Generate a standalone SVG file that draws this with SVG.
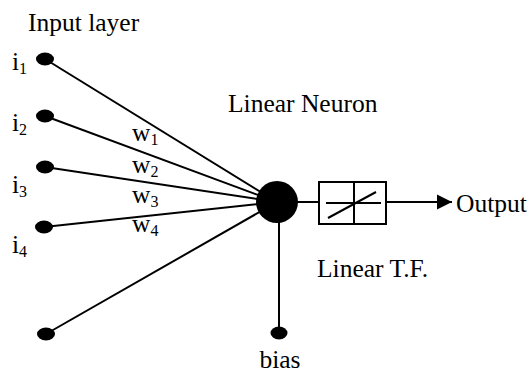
<svg xmlns="http://www.w3.org/2000/svg" width="531" height="373" viewBox="0 0 531 373">
  <defs>
    <style>
      .t { font-family: "Liberation Serif", "Times New Roman", serif; font-size: 25.5px; fill: #000; }
      .s { font-size: 16px; }
      .ln { stroke: #000; stroke-width: 2; fill: none; }
      .dot { fill: #000; }
    </style>
    <marker id="arrow" markerWidth="16" markerHeight="16" refX="15" refY="8" orient="auto" markerUnits="userSpaceOnUse">
      <path d="M0,0.5 L15,8 L0,15.5 Z" fill="#000"/>
    </marker>
  </defs>
  <rect width="531" height="373" fill="#fff"/>

  <!-- connectors: inputs into the neuron, bias, transfer and output -->
  <g id="connectors" class="ln">
    <line x1="45" y1="59" x2="277" y2="202"/>
    <line x1="45" y1="116" x2="277" y2="202"/>
    <line x1="45" y1="167" x2="277" y2="202"/>
    <line x1="44" y1="227" x2="277" y2="202"/>
    <line x1="46" y1="334" x2="277" y2="202"/>
    <line x1="279" y1="202" x2="279" y2="333"/>
    <line x1="297" y1="202" x2="319" y2="202"/>
    <line x1="386" y1="202" x2="452" y2="202" marker-end="url(#arrow)"/>
  </g>

  <!-- input layer -->
  <text class="t" x="28" y="31">Input layer</text>
  <g id="input1">
    <ellipse class="dot" cx="45" cy="59" rx="9" ry="6.5"/>
    <text class="t" x="12" y="70">i<tspan class="s" dy="4">1</tspan></text>
  </g>
  <g id="input2">
    <ellipse class="dot" cx="45" cy="116" rx="9" ry="6.5"/>
    <text class="t" x="12" y="131">i<tspan class="s" dy="4">2</tspan></text>
  </g>
  <g id="input3">
    <ellipse class="dot" cx="45" cy="167" rx="9" ry="6.5"/>
    <text class="t" x="12" y="193">i<tspan class="s" dy="4">3</tspan></text>
  </g>
  <g id="input4">
    <ellipse class="dot" cx="44" cy="227" rx="9" ry="6.5"/>
    <text class="t" x="12" y="253">i<tspan class="s" dy="4">4</tspan></text>
  </g>
  <g id="input5">
    <ellipse class="dot" cx="46" cy="334" rx="9" ry="6.5"/>
  </g>

  <!-- weights -->
  <g id="weights">
    <text class="t" x="132" y="141">w<tspan class="s" dy="4">1</tspan></text>
    <text class="t" x="132" y="173">w<tspan class="s" dy="4">2</tspan></text>
    <text class="t" x="132" y="203">w<tspan class="s" dy="4">3</tspan></text>
    <text class="t" x="132" y="232">w<tspan class="s" dy="4">4</tspan></text>
  </g>

  <!-- neuron -->
  <g id="neuron">
    <circle class="dot" cx="277" cy="202" r="21"/>
    <text class="t" x="228" y="112">Linear Neuron</text>
  </g>

  <!-- bias -->
  <g id="bias">
    <ellipse class="dot" cx="279" cy="333" rx="8.5" ry="6.5"/>
    <text class="t" x="280" y="368" text-anchor="middle">bias</text>
  </g>

  <!-- linear transfer function -->
  <g id="transfer">
    <rect x="319" y="182" width="67" height="42" fill="#fff" stroke="#000" stroke-width="2"/>
    <line class="ln" x1="326" y1="203" x2="381" y2="203"/>
    <line class="ln" x1="354" y1="182" x2="354" y2="224"/>
    <line class="ln" x1="328" y1="218" x2="376" y2="192"/>
    <text class="t" x="317" y="277">Linear T.F.</text>
  </g>

  <!-- output -->
  <g id="output">
    <text class="t" x="456" y="212">Output</text>
  </g>
</svg>
